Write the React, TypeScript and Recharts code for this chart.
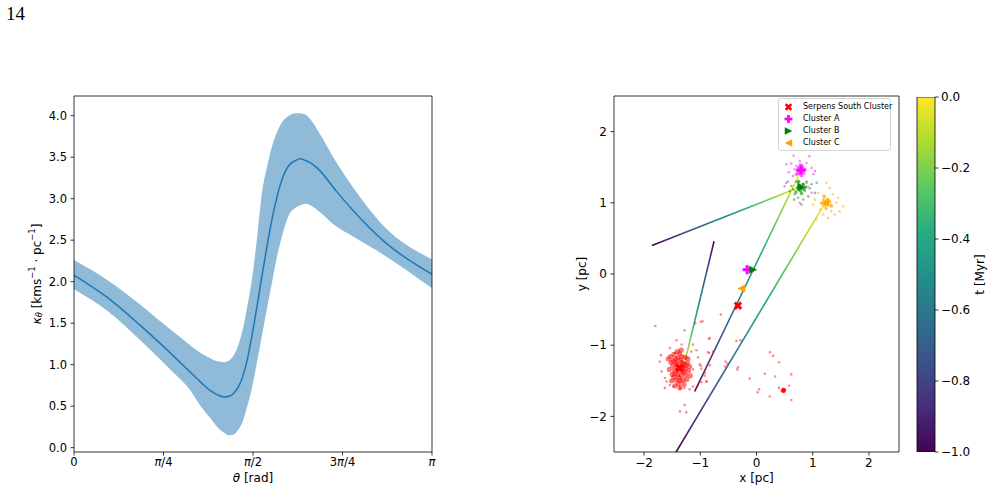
import React from 'react';
import { ComposedChart, XAxis, YAxis, Area, Line, Scatter, Bar, Legend, ReferenceLine, Label } from 'recharts';

const FONT = '"DejaVu Sans", Verdana, sans-serif';
const pageNumber = '14';

// ---------- Left panel data ----------
const thetaOverPi = [0, 0.093, 0.186, 0.279, 0.32, 0.354, 0.38, 0.4, 0.419, 0.433, 0.447, 0.456, 0.47, 0.484, 0.5, 0.512, 0.525, 0.54, 0.553, 0.567, 0.581, 0.6, 0.619, 0.632, 0.647, 0.665, 0.684, 0.731, 0.777, 0.87, 1];
const kappaLower = [1.91, 1.65, 1.29, 0.90, 0.72, 0.50, 0.36, 0.25, 0.18, 0.15, 0.16, 0.20, 0.30, 0.50, 0.78, 1.05, 1.35, 1.70, 1.99, 2.30, 2.55, 2.80, 2.89, 2.92, 2.94, 2.91, 2.85, 2.67, 2.55, 2.31, 1.92];
const kappaMean = [2.08, 1.81, 1.47, 1.10, 0.93, 0.79, 0.69, 0.64, 0.61, 0.62, 0.66, 0.71, 0.84, 1.06, 1.42, 1.72, 2.07, 2.45, 2.75, 3.02, 3.23, 3.40, 3.46, 3.48, 3.46, 3.42, 3.35, 3.10, 2.87, 2.47, 2.09];
const kappaUpper = [2.26, 2.02, 1.72, 1.39, 1.25, 1.14, 1.08, 1.04, 1.03, 1.05, 1.12, 1.20, 1.40, 1.70, 2.12, 2.55, 3.07, 3.40, 3.63, 3.80, 3.92, 4.00, 4.03, 4.03, 4.01, 3.93, 3.80, 3.45, 3.15, 2.65, 2.27];
const thetaTickFractions = [0, 0.25, 0.5, 0.75, 1];
const thetaTickLabels = ['0', 'π/4', 'π/2', '3π/4', 'π'];
const kappaTicks = [0, 0.5, 1, 1.5, 2, 2.5, 3, 3.5, 4];

const leftData = thetaOverPi.map((f, i) => ({
  theta: f * Math.PI,
  band: [kappaLower[i], kappaUpper[i]],
  mean: kappaMean[i],
}));
const leftXTicks = thetaTickFractions.map((f) => f * Math.PI);

// ---------- Right panel data ----------
const posTicks = [-2, -1, 0, 1, 2];
const timeTicks = [-1, -0.8, -0.6, -0.4, -0.2, 0];
const legendNames = ['Serpens South Cluster', 'Cluster A', 'Cluster B', 'Cluster C'];

const trajSerpens = [{ x: -0.755, y: 0.46 }, { x: -1.305, y: -1.335 }];
const trajA = [{ x: -1.10, y: -1.65 }, { x: 0.79, y: 1.45 }];
const trajB = [{ x: -1.86, y: 0.40 }, { x: 0.77, y: 1.22 }];
const trajC = [{ x: -1.43, y: -2.5 }, { x: 1.22, y: 1.0 }];

const redCore = [
  { x: -1.37, y: -1.32 }, { x: -1.42, y: -1.27 }, { x: -1.32, y: -1.37 }, { x: -1.46, y: -1.35 }, { x: -1.30, y: -1.26 },
  { x: -1.40, y: -1.41 }, { x: -1.35, y: -1.21 }, { x: -1.49, y: -1.29 }, { x: -1.27, y: -1.33 }, { x: -1.38, y: -1.46 },
  { x: -1.44, y: -1.19 }, { x: -1.33, y: -1.16 }, { x: -1.50, y: -1.41 }, { x: -1.26, y: -1.42 }, { x: -1.43, y: -1.49 },
  { x: -1.31, y: -1.49 }, { x: -1.52, y: -1.24 }, { x: -1.23, y: -1.25 }, { x: -1.37, y: -1.12 }, { x: -1.47, y: -1.13 },
  { x: -1.55, y: -1.34 }, { x: -1.21, y: -1.36 }, { x: -1.39, y: -1.54 }, { x: -1.29, y: -1.55 }, { x: -1.35, y: -1.29 },
  { x: -1.39, y: -1.35 }, { x: -1.34, y: -1.43 }, { x: -1.43, y: -1.24 }, { x: -1.31, y: -1.31 }, { x: -1.47, y: -1.45 },
  { x: -1.24, y: -1.48 }, { x: -1.57, y: -1.19 }, { x: -1.19, y: -1.30 }, { x: -1.51, y: -1.50 }, { x: -1.34, y: -1.07 },
  { x: -1.27, y: -1.17 }, { x: -1.41, y: -1.09 }, { x: -1.18, y: -1.43 }, { x: -1.45, y: -1.57 }, { x: -1.22, y: -1.19 },
  { x: -1.53, y: -1.16 }, { x: -1.36, y: -1.60 }, { x: -1.41, y: -1.32 }, { x: -1.33, y: -1.24 }, { x: -1.45, y: -1.40 },
  { x: -1.29, y: -1.38 }, { x: -1.40, y: -1.18 }, { x: -1.48, y: -1.22 }, { x: -1.26, y: -1.28 }, { x: -1.36, y: -1.50 },
];
const redSparse = [
  { x: -1.80, y: -0.73 }, { x: -1.09, y: -0.69 }, { x: -0.99, y: -0.67 }, { x: -1.28, y: -0.79 }, { x: -0.83, y: -0.90 },
  { x: -1.42, y: -0.93 }, { x: -1.33, y: -0.99 }, { x: -1.13, y: -0.99 }, { x: -0.86, y: -1.10 }, { x: -1.70, y: -1.14 },
  { x: -1.72, y: -1.23 }, { x: -1.04, y: -1.17 }, { x: -1.01, y: -1.27 }, { x: -0.92, y: -1.39 }, { x: -1.69, y: -1.37 },
  { x: -1.63, y: -1.46 }, { x: -1.60, y: -1.51 }, { x: -0.89, y: -1.51 }, { x: -1.48, y: -1.58 }, { x: -1.36, y: -1.60 },
  { x: -1.28, y: -1.60 }, { x: -1.19, y: -1.62 }, { x: -1.63, y: -1.60 }, { x: -1.13, y: -1.58 }, { x: -1.28, y: -1.84 },
  { x: -1.36, y: -1.93 }, { x: -1.25, y: -1.94 }, { x: -1.54, y: -1.04 }, { x: -1.45, y: -1.11 }, { x: -1.16, y: -1.09 },
  { x: -1.13, y: -1.34 }, { x: -1.54, y: -1.56 }, { x: -1.04, y: -1.56 }, { x: -1.07, y: -1.07 }, { x: -0.98, y: -1.33 },
  { x: -0.635, y: -0.57 }, { x: -0.96, y: -0.665 }, { x: -0.85, y: -0.91 }, { x: -0.356, y: -0.94 }, { x: -0.285, y: -0.93 },
  { x: -0.77, y: -1.09 }, { x: -0.84, y: -1.11 }, { x: 0.237, y: -1.10 }, { x: 0.296, y: -1.15 }, { x: 0.40, y: -1.24 },
  { x: -0.55, y: -1.23 }, { x: -0.52, y: -1.26 }, { x: -0.56, y: -1.30 }, { x: -0.33, y: -1.31 }, { x: -0.34, y: -1.34 },
  { x: -0.99, y: -1.29 }, { x: -0.83, y: -1.28 }, { x: 0.148, y: -1.40 }, { x: 0.33, y: -1.44 }, { x: 0.62, y: -1.41 },
  { x: -0.92, y: -1.43 }, { x: -0.89, y: -1.51 }, { x: -0.12, y: -1.47 }, { x: 0.046, y: -1.62 }, { x: 0.018, y: -1.66 },
  { x: 0.237, y: -1.72 }, { x: 0.40, y: -1.60 }, { x: 0.58, y: -1.57 }, { x: 0.62, y: -1.77 }, { x: -0.98, y: -1.52 },
];
const redBlob = [
  { x: 0.47, y: -1.63 }, { x: 0.49, y: -1.64 }, { x: 0.48, y: -1.62 }, { x: 0.46, y: -1.64 }, { x: 0.50, y: -1.63 }, { x: 0.48, y: -1.65 },
];
const magentaPts = [
  { x: 0.94, y: 1.655 }, { x: 0.77, y: 1.585 }, { x: 0.62, y: 1.55 }, { x: 0.53, y: 1.54 }, { x: 0.89, y: 1.56 },
  { x: 0.98, y: 1.49 }, { x: 1.04, y: 1.445 }, { x: 1.01, y: 1.40 }, { x: 0.575, y: 1.43 }, { x: 0.65, y: 1.375 },
  { x: 0.56, y: 1.30 }, { x: 0.89, y: 1.28 }, { x: 0.92, y: 1.225 }, { x: 0.71, y: 1.515 }, { x: 0.81, y: 1.525 },
  { x: 0.85, y: 1.40 }, { x: 0.74, y: 1.41 }, { x: 0.68, y: 1.47 }, { x: 0.86, y: 1.47 }, { x: 0.77, y: 1.00 },
  { x: 0.50, y: 1.23 }, { x: 0.98, y: 1.14 }, { x: 0.66, y: 1.66 },
];
const magentaCore = [
  { x: 0.79, y: 1.46 }, { x: 0.75, y: 1.49 }, { x: 0.83, y: 1.43 }, { x: 0.77, y: 1.42 }, { x: 0.82, y: 1.50 },
  { x: 0.73, y: 1.45 }, { x: 0.86, y: 1.46 }, { x: 0.80, y: 1.38 }, { x: 0.78, y: 1.53 }, { x: 0.71, y: 1.40 },
];
const greenPts = [
  { x: 0.71, y: 1.30 }, { x: 0.89, y: 1.30 }, { x: 0.98, y: 1.26 }, { x: 0.62, y: 1.235 }, { x: 0.59, y: 1.165 },
  { x: 0.68, y: 1.12 }, { x: 0.74, y: 1.07 }, { x: 0.83, y: 1.045 }, { x: 0.92, y: 1.09 }, { x: 1.04, y: 1.14 },
  { x: 0.77, y: 1.19 }, { x: 0.83, y: 1.26 }, { x: 0.74, y: 1.28 }, { x: 0.86, y: 1.165 }, { x: 0.65, y: 1.19 },
  { x: 0.95, y: 1.20 }, { x: 0.80, y: 0.975 }, { x: 0.67, y: 1.045 }, { x: 1.07, y: 1.28 }, { x: 0.53, y: 1.28 },
];
const greenCore = [
  { x: 0.80, y: 1.22 }, { x: 0.76, y: 1.25 }, { x: 0.84, y: 1.19 }, { x: 0.78, y: 1.17 }, { x: 0.83, y: 1.26 },
  { x: 0.73, y: 1.21 }, { x: 0.87, y: 1.22 }, { x: 0.80, y: 1.13 }, { x: 0.75, y: 1.30 }, { x: 0.70, y: 1.15 },
];
const orangePts = [
  { x: 1.245, y: 1.28 }, { x: 1.30, y: 1.21 }, { x: 1.10, y: 1.14 }, { x: 1.36, y: 1.12 }, { x: 1.45, y: 1.07 },
  { x: 1.54, y: 0.95 }, { x: 1.04, y: 1.045 }, { x: 1.01, y: 0.975 }, { x: 1.13, y: 0.905 }, { x: 1.33, y: 0.88 },
  { x: 1.39, y: 0.835 }, { x: 1.27, y: 0.79 }, { x: 1.185, y: 0.835 }, { x: 1.42, y: 1.00 }, { x: 1.16, y: 1.00 },
  { x: 1.27, y: 1.045 }, { x: 1.215, y: 1.09 }, { x: 1.33, y: 0.95 }, { x: 1.07, y: 0.765 }, { x: 1.48, y: 0.88 },
];
const orangeCore = [
  { x: 1.23, y: 1.01 }, { x: 1.19, y: 1.04 }, { x: 1.27, y: 0.98 }, { x: 1.21, y: 0.96 }, { x: 1.26, y: 1.05 },
  { x: 1.16, y: 0.99 }, { x: 1.30, y: 1.02 }, { x: 1.24, y: 0.92 }, { x: 1.20, y: 1.09 }, { x: 1.33, y: 0.96 },
];
const markerSerpens = [{ x: -0.33, y: -0.445 }, { x: -1.37, y: -1.32 }];
const markerA = [{ x: -0.167, y: 0.06 }, { x: 0.79, y: 1.46 }];
const markerB = [{ x: -0.06, y: 0.06 }, { x: 0.80, y: 1.22 }];
const markerC = [{ x: -0.27, y: -0.205 }, { x: 1.22, y: 1.0 }];

const cbData = [{ name: 't', range: [-1, 0] }];

// ---------- styling ----------
const viridis: [string, string][] = [
  ['0%', '#440154'], ['12.5%', '#472d7b'], ['25%', '#3b528b'], ['37.5%', '#2c728e'], ['50%', '#21918c'],
  ['62.5%', '#28ae80'], ['75%', '#5ec962'], ['87.5%', '#addc30'], ['100%', '#fde725'],
];
const RED = '#ff0000';
const MAGENTA = '#ff00ff';
const GREEN = '#008000';
const ORANGE = '#ffa500';
const C0 = '#1f77b4';

const minus = (s: string) => s.replace('-', '−');

function markerEl(kind: string, cx: number, cy: number, color: string, s: number) {
  const h = s / 2;
  const t = s / 3;
  if (kind === 'x') {
    return (
      <g transform={`translate(${cx},${cy}) rotate(45)`} fill={color}>
        <rect x={-h} y={-t / 2} width={s} height={t} />
        <rect x={-t / 2} y={-h} width={t} height={s} />
      </g>
    );
  }
  if (kind === 'plus') {
    return (
      <g transform={`translate(${cx},${cy})`} fill={color}>
        <rect x={-h} y={-t / 2} width={s} height={t} />
        <rect x={-t / 2} y={-h} width={t} height={s} />
      </g>
    );
  }
  if (kind === 'right') {
    return <polygon points={`${cx - h},${cy - h} ${cx + h},${cy} ${cx - h},${cy + h}`} fill={color} />;
  }
  return <polygon points={`${cx + h},${cy - h} ${cx - h},${cy} ${cx + h},${cy + h}`} fill={color} />;
}

const makeDot = (color: string, r: number, op: number) => (p: any) => (
  <circle cx={p.cx} cy={p.cy} r={r} fill={color} fillOpacity={op} stroke="none" />
);
const makeMarker = (kind: string, color: string, s: number) => (p: any) => markerEl(kind, p.cx, p.cy, color, s);

const legendKinds = [
  { kind: 'x', color: RED, s: 8 },
  { kind: 'plus', color: MAGENTA, s: 8 },
  { kind: 'right', color: GREEN, s: 7.5 },
  { kind: 'left', color: ORANGE, s: 7.5 },
];

const LegendBox = () => (
  <div
    style={{
      position: 'relative', width: 113, height: 53, boxSizing: 'border-box', border: '1px solid #d4d4d4',
      borderRadius: 3, background: 'rgba(255,255,255,0.8)', fontFamily: FONT, fontSize: 8, color: '#000',
    }}
  >
    {legendNames.map((name, i) => (
      <div key={name} style={{ position: 'absolute', left: 0, top: 2 + i * 12, height: 12, display: 'flex', alignItems: 'center', whiteSpace: 'nowrap' }}>
        <svg width={20} height={12} style={{ display: 'block' }}>
          {markerEl(legendKinds[i].kind, 9.5, 6, legendKinds[i].color, legendKinds[i].s)}
        </svg>
        <span style={{ marginLeft: 4, lineHeight: '12px' }}>{name}</span>
      </div>
    ))}
  </div>
);

const renderPiTick = (props: any) => {
  const { x, y, index } = props;
  const label = thetaTickLabels[index] ?? '';
  const parts = label.split('π');
  return (
    <text x={x} y={y} dy="0.71em" textAnchor="middle" fontFamily={FONT} fontSize={11.5} fill="#000">
      {parts.map((p, i) => (
        <React.Fragment key={i}>
          {p}
          {i < parts.length - 1 ? <tspan fontStyle="italic">π</tspan> : null}
        </React.Fragment>
      ))}
    </text>
  );
};

const ThetaLabel = (props: any) => {
  const vb = props.viewBox || { x: 74, y: 452, width: 358, height: 30 };
  return (
    <text x={vb.x + vb.width / 2} y={vb.y + 30} textAnchor="middle" fontFamily={FONT} fontSize={12} fill="#000">
      <tspan fontStyle="italic">θ</tspan> [rad]
    </text>
  );
};

const KappaLabel = (props: any) => {
  const vb = props.viewBox || { x: 14, y: 96, width: 60, height: 356 };
  const cx = vb.x + 22.7;
  const cy = vb.y + vb.height / 2;
  return (
    <text x={cx} y={cy} transform={`rotate(-90 ${cx} ${cy})`} textAnchor="middle" dominantBaseline="central" fontFamily={FONT} fontSize={12} fill="#000">
      <tspan fontStyle="italic">κ</tspan>
      <tspan fontStyle="italic" fontSize={8.4} dy={2.6}>θ</tspan>
      <tspan dy={-2.6}> [kms</tspan>
      <tspan fontSize={8.4} dy={-4.2}>−1</tspan>
      <tspan dy={4.2}> · pc</tspan>
      <tspan fontSize={8.4} dy={-4.2}>−1</tspan>
      <tspan dy={4.2}>]</tspan>
    </text>
  );
};

const XpcLabel = (props: any) => {
  const vb = props.viewBox || { x: 614, y: 452, width: 285, height: 30 };
  return (
    <text x={vb.x + vb.width / 2} y={vb.y + 30} textAnchor="middle" fontFamily={FONT} fontSize={12} fill="#000">x [pc]</text>
  );
};

const YpcLabel = (props: any) => {
  const vb = props.viewBox || { x: 14, y: 96, width: 40, height: 356 };
  const cx = vb.x + 7.7;
  const cy = vb.y + vb.height / 2;
  return (
    <text x={cx} y={cy} transform={`rotate(-90 ${cx} ${cy})`} textAnchor="middle" dominantBaseline="central" fontFamily={FONT} fontSize={12} fill="#000">y [pc]</text>
  );
};

const TLabel = (props: any) => {
  const vb = props.viewBox || { x: 30, y: 97, width: 56, height: 355 };
  const cx = vb.x + 45;
  const cy = vb.y + vb.height / 2;
  return (
    <text x={cx} y={cy} transform={`rotate(-90 ${cx} ${cy})`} textAnchor="middle" dominantBaseline="central" fontFamily={FONT} fontSize={12} fill="#000">t [Myr]</text>
  );
};

function LeftChart() {
  const yMin = -0.052;
  const yMax = 4.237;
  return (
    <ComposedChart width={440} height={492} data={leftData} margin={{ top: 96, right: 8, bottom: 10, left: 14 }}>
      <XAxis
        dataKey="theta" type="number" domain={[0, Math.PI]} allowDataOverflow ticks={leftXTicks} interval={0}
        tick={renderPiTick} tickSize={3.5} tickMargin={2.5} height={30} stroke="#000" strokeWidth={0.8}
      >
        <Label content={ThetaLabel} />
      </XAxis>
      <YAxis
        type="number" domain={[yMin, yMax]} allowDataOverflow ticks={kappaTicks} interval={0} width={60}
        tickFormatter={(v: number) => v.toFixed(1)} tickSize={3.5} tickMargin={3.5} stroke="#000" strokeWidth={0.8}
        tick={{ fill: '#000', fontSize: 11.5, fontFamily: FONT }}
      >
        <Label content={KappaLabel} />
      </YAxis>
      <Area dataKey="band" type="monotone" fill={C0} fillOpacity={0.5} stroke="none" isAnimationActive={false} />
      <Line dataKey="mean" type="monotone" stroke={C0} strokeWidth={1.5} dot={false} activeDot={false} isAnimationActive={false} />
      <ReferenceLine y={yMax} stroke="#000" strokeWidth={0.8} ifOverflow="visible" />
      <ReferenceLine x={Math.PI} stroke="#000" strokeWidth={0.8} ifOverflow="visible" />
    </ComposedChart>
  );
}

function RightChart() {
  const xLim = 2.535;
  const yLim = 2.5;
  return (
    <ComposedChart width={360} height={492} margin={{ top: 96, right: 21, bottom: 10, left: 14 }}>
      <defs>
        <linearGradient id="trajUp" x1="0" y1="1" x2="1" y2="0">
          {viridis.map(([o, c]) => <stop key={o} offset={o} stopColor={c} />)}
        </linearGradient>
        <linearGradient id="trajDown" x1="1" y1="0" x2="0" y2="1">
          {viridis.map(([o, c]) => <stop key={o} offset={o} stopColor={c} />)}
        </linearGradient>
      </defs>
      <XAxis
        dataKey="x" type="number" domain={[-xLim, xLim]} allowDataOverflow ticks={posTicks} interval={0}
        tickFormatter={(v: number) => minus(String(v))} tickSize={3.5} tickMargin={2.5} height={30} stroke="#000" strokeWidth={0.8}
        tick={{ fill: '#000', fontSize: 12, fontFamily: FONT }}
      >
        <Label content={XpcLabel} />
      </XAxis>
      <YAxis
        dataKey="y" type="number" domain={[-yLim, yLim]} allowDataOverflow ticks={posTicks} interval={0} width={40}
        tickFormatter={(v: number) => minus(String(v))} tickSize={3.5} tickMargin={3.5} stroke="#000" strokeWidth={0.8}
        tick={{ fill: '#000', fontSize: 12, fontFamily: FONT }}
      >
        <Label content={YpcLabel} />
      </YAxis>

      <Scatter data={redSparse} shape={makeDot(RED, 1.3, 0.45)} isAnimationActive={false} />
      <Scatter data={redCore} shape={makeDot(RED, 2.6, 0.55)} isAnimationActive={false} />
      <Scatter data={redBlob} shape={makeDot(RED, 1.8, 0.7)} isAnimationActive={false} />
      <Scatter data={magentaPts} shape={makeDot(MAGENTA, 1.3, 0.45)} isAnimationActive={false} />
      <Scatter data={magentaCore} shape={makeDot(MAGENTA, 1.8, 0.6)} isAnimationActive={false} />
      <Scatter data={greenPts} shape={makeDot(GREEN, 1.3, 0.45)} isAnimationActive={false} />
      <Scatter data={greenCore} shape={makeDot(GREEN, 1.8, 0.6)} isAnimationActive={false} />
      <Scatter data={orangePts} shape={makeDot(ORANGE, 1.3, 0.5)} isAnimationActive={false} />
      <Scatter data={orangeCore} shape={makeDot(ORANGE, 1.8, 0.65)} isAnimationActive={false} />

      <Line data={trajSerpens} dataKey="y" type="linear" stroke="url(#trajDown)" strokeWidth={1.6} dot={false} activeDot={false} isAnimationActive={false} />
      <Line data={trajA} dataKey="y" type="linear" stroke="url(#trajUp)" strokeWidth={1.6} dot={false} activeDot={false} isAnimationActive={false} />
      <Line data={trajB} dataKey="y" type="linear" stroke="url(#trajUp)" strokeWidth={1.6} dot={false} activeDot={false} isAnimationActive={false} />
      <Line data={trajC} dataKey="y" type="linear" stroke="url(#trajUp)" strokeWidth={1.6} dot={false} activeDot={false} isAnimationActive={false} />

      <Scatter data={markerSerpens} shape={makeMarker('x', RED, 9)} isAnimationActive={false} />
      <Scatter data={markerA} shape={makeMarker('plus', MAGENTA, 9)} isAnimationActive={false} />
      <Scatter data={markerB} shape={makeMarker('right', GREEN, 8)} isAnimationActive={false} />
      <Scatter data={markerC} shape={makeMarker('left', ORANGE, 8)} isAnimationActive={false} />

      <ReferenceLine y={yLim} stroke="#000" strokeWidth={0.8} ifOverflow="visible" />
      <ReferenceLine x={xLim} stroke="#000" strokeWidth={0.8} ifOverflow="visible" />
      <Legend
        layout="vertical" align="center" verticalAlign="middle" content={() => <LegendBox />}
        wrapperStyle={{ left: 218, top: 98, width: 113, height: 53 }}
      />
    </ComposedChart>
  );
}

function ColorBar() {
  return (
    <ComposedChart width={86} height={492} data={cbData} margin={{ top: 97, right: 0, bottom: 40, left: 12 }} barCategoryGap={0} barGap={0}>
      <defs>
        <linearGradient id="viridisV" x1="0" y1="1" x2="0" y2="0">
          {viridis.map(([o, c]) => <stop key={o} offset={o} stopColor={c} />)}
        </linearGradient>
      </defs>
      <XAxis dataKey="name" hide />
      <YAxis
        orientation="right" type="number" domain={[-1, 0]} allowDataOverflow ticks={timeTicks} interval={0} width={56}
        tickFormatter={(v: number) => minus(v.toFixed(1))} tickSize={3.5} tickMargin={2.5} axisLine={false}
        stroke="#000" strokeWidth={0.8} tick={{ fill: '#000', fontSize: 12, fontFamily: FONT }}
      >
        <Label content={TLabel} />
      </YAxis>
      <Bar dataKey="range" fill="url(#viridisV)" stroke="#000" strokeWidth={0.8} isAnimationActive={false} />
    </ComposedChart>
  );
}

export default function App() {
  return (
    <div style={{ position: 'absolute', left: 0, top: 0, width: 991, height: 492, background: '#fff', overflow: 'hidden' }}>
      <div style={{ position: 'absolute', left: 6, top: 4, fontFamily: '"Liberation Serif", "DejaVu Serif", serif', fontSize: 19, lineHeight: 1, color: '#000' }}>
        {pageNumber}
      </div>
      <div style={{ position: 'absolute', left: 0, top: 0 }}>
        <LeftChart />
      </div>
      <div style={{ position: 'absolute', left: 560, top: 0 }}>
        <RightChart />
      </div>
      <div style={{ position: 'absolute', left: 905, top: 0 }}>
        <ColorBar />
      </div>
    </div>
  );
}
